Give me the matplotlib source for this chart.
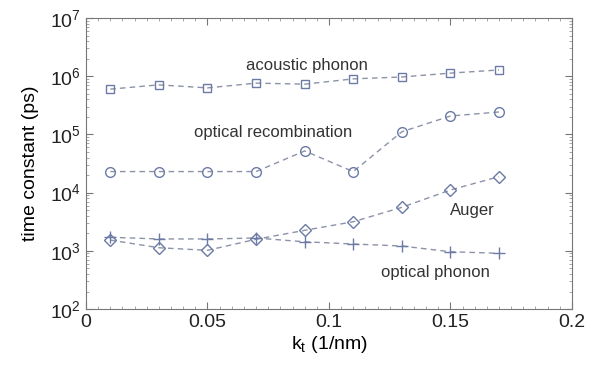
import matplotlib
matplotlib.use('Agg')
from matplotlib import pyplot as plt
from matplotlib.ticker import MultipleLocator, LogLocator
import numpy as np

plt.rcParams['font.family'] = ['Liberation Sans', 'DejaVu Sans']

k_t = [0.01, 0.03, 0.05, 0.07, 0.09, 0.11, 0.13, 0.15, 0.17]
acoustic_phonon = [6.0e5, 7.1e5, 6.3e5, 7.6e5, 7.3e5, 9.0e5, 9.7e5, 1.13e6, 1.28e6]
optical_recomb = [2.3e4, 2.3e4, 2.3e4, 2.3e4, 5.2e4, 2.3e4, 1.11e5, 2.07e5, 2.43e5]
auger = [1.53e3, 1.13e3, 1.02e3, 1.58e3, 2.25e3, 3.16e3, 5.59e3, 1.11e4, 1.88e4]
optical_phonon = [1.71e3, 1.60e3, 1.60e3, 1.66e3, 1.43e3, 1.31e3, 1.21e3, 965, 906]

line_col = '#8c92a8'
mark_col = '#6b7ba6'

fig = plt.figure(figsize=(6.12, 3.71), dpi=100)
ax = fig.add_axes([0.1405, 0.167, 0.794, 0.7845])

def draw(y, marker, ms):
    ax.plot(k_t, y, linestyle='--', color=line_col, linewidth=1.0, dashes=(4, 3))
    ax.plot(k_t, y, linestyle='none', marker=marker, markersize=ms,
            markerfacecolor='none', markeredgecolor=mark_col, markeredgewidth=1.0)

draw(acoustic_phonon, 's', 5.5)
draw(optical_recomb, 'o', 7)
draw(auger, 'D', 6)
draw(optical_phonon, '+', 8)

ax.set_yscale('log')
ax.set_xlim(0, 0.2)
ax.set_ylim(1e2, 1e7)
ax.set_xticks([0, 0.05, 0.1, 0.15, 0.2])
ax.set_xticklabels(['0', '0.05', '0.1', '0.15', '0.2'])
ax.xaxis.set_minor_locator(MultipleLocator(0.005))
ax.yaxis.set_major_locator(LogLocator(base=10, numticks=10))
ax.yaxis.set_minor_locator(LogLocator(base=10, subs=np.arange(2, 10), numticks=10))
ax.tick_params(which='both', direction='in', top=True, right=True, labelsize=14, colors='#222222')
ax.tick_params(which='major', length=5, color='#777777')
ax.tick_params(which='minor', length=2.5, color='#999999')
for s in ax.spines.values():
    s.set_color('#777777')

ax.set_xlabel(r'k$_\mathregular{t}$ (1/nm)', fontsize=14, labelpad=2)
ax.set_ylabel('time constant (ps)', fontsize=14, labelpad=8)

ax.text(0.091, 1.5e6, 'acoustic phonon', fontsize=12, ha='center', va='center', color='#333333')
ax.text(0.077, 1.1e5, 'optical recombination', fontsize=12, ha='center', va='center', color='#333333')
ax.text(0.159, 5.0e3, 'Auger', fontsize=12, ha='center', va='center', color='#333333')
ax.text(0.144, 420, 'optical phonon', fontsize=12, ha='center', va='center', color='#333333')

fig.savefig('out.png', dpi=100)
